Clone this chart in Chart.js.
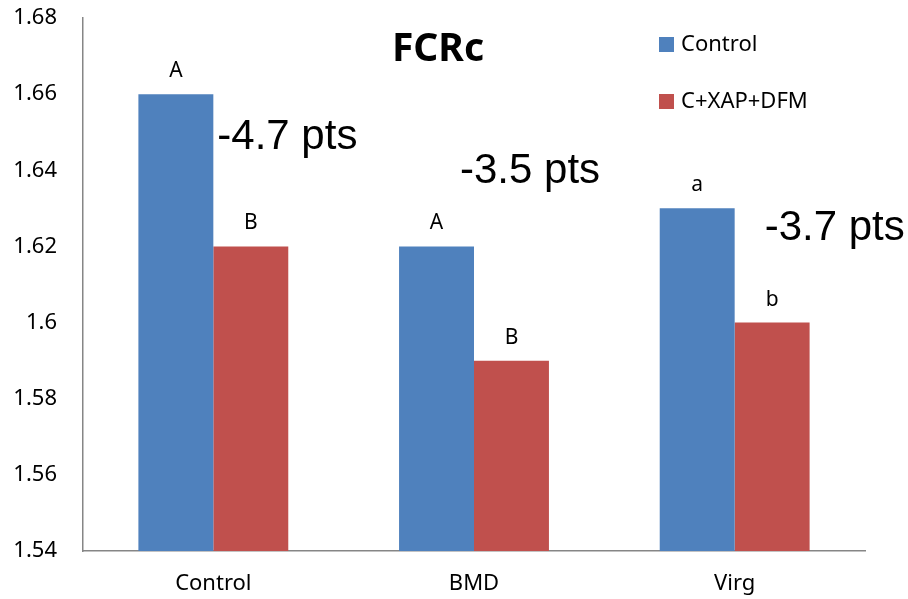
<!DOCTYPE html>
<html>
<head>
<meta charset="utf-8">
<script src="https://cdn.jsdelivr.net/npm/chart.js@4"></script>
<style>
  html, body { margin: 0; padding: 0; background: #fff; }
  #wrap { width: 908px; height: 599px; }
</style>
</head>
<body>
<div id="wrap"><canvas id="chart" width="908" height="599"></canvas></div>
<script>
// ======================
// DATA
// ======================
const categories = ["Control", "BMD", "Virg"];
const seriesNames = ["Control", "C+XAP+DFM"];
const controlValues = [1.66, 1.62, 1.63];
const treatValues = [1.62, 1.59, 1.60];
const controlLetters = ["A", "A", "a"];
const treatLetters = ["B", "B", "b"];
const diffLabels = ["-4.7 pts", "-3.5 pts", "-3.7 pts"];
const chartTitle = "FCRc";

// where the "-x pts" notes sit: pixel shift from category centre, value on y scale
const diffPlace = [
  { dx: 4, y: 1.6487 },
  { dx: -14, y: 1.6396 },
  { dx: 30, y: 1.6246 }
];

const BLUE = "#4f81bd";
const RED = "#c0504d";
const FONT = "'Noto Sans', sans-serif";

// ======================
// EXTRA DRAWING
// ======================
const overlay = {
  id: "overlay",
  afterDatasetsDraw(chart) {
    const ctx = chart.ctx;
    const letters = [controlLetters, treatLetters];
    ctx.save();

    // letters above bars
    ctx.fillStyle = "#000";
    ctx.font = "21px " + FONT;
    ctx.textAlign = "center";
    ctx.textBaseline = "middle";
    letters.forEach((set, i) => {
      chart.getDatasetMeta(i).data.forEach((bar, j) => {
        ctx.fillText(set[j], bar.x, bar.y - 23);
      });
    });

    // differences
    const xs = chart.scales.x;
    const ys = chart.scales.y;
    ctx.font = "42px 'Liberation Sans', Arial, sans-serif";
    ctx.textAlign = "left";
    diffLabels.forEach((txt, j) => {
      const p = diffPlace[j];
      ctx.fillText(txt, xs.getPixelForValue(j) + p.dx, ys.getPixelForValue(p.y));
    });

    // title
    ctx.font = "bold 39px " + FONT;
    ctx.textAlign = "center";
    ctx.fillText(chartTitle, 438, 50);

    // legend
    ctx.font = "22px " + FONT;
    ctx.textAlign = "left";
    chart.data.datasets.forEach((ds, i) => {
      const y = 44 + i * 57;
      ctx.fillStyle = ds.backgroundColor;
      ctx.fillRect(659, y - 7, 15, 15);
      ctx.fillStyle = "#000";
      ctx.fillText(ds.label, 681, y + 1);
    });

    ctx.restore();
  }
};

new Chart(document.getElementById("chart"), {
  type: "bar",
  data: {
    labels: categories,
    datasets: [
      {
        label: seriesNames[0],
        data: controlValues,
        backgroundColor: BLUE,
        categoryPercentage: 0.575,
        barPercentage: 1.0
      },
      {
        label: seriesNames[1],
        data: treatValues,
        backgroundColor: RED,
        categoryPercentage: 0.575,
        barPercentage: 1.0
      }
    ]
  },
  options: {
    responsive: false,
    animation: false,
    layout: {
      padding: { top: 0, right: 43, bottom: 0, left: 0 }
    },
    plugins: {
      legend: { display: false },
      tooltip: { enabled: false }
    },
    scales: {
      x: {
        grid: { display: false, drawTicks: false },
        border: { display: true, color: "#868686", width: 1.5 },
        ticks: {
          color: "#000",
          font: { family: FONT, size: 22 },
          padding: 20
        },
        afterFit: s => { s.height = 48; }
      },
      y: {
        min: 1.54,
        max: 1.68,
        grid: { display: false, drawTicks: false },
        border: { display: true, color: "#868686", width: 1.5 },
        ticks: {
          stepSize: 0.02,
          color: "#000",
          font: { family: FONT, size: 22 },
          padding: 26,
          callback: v => String(Number(v.toFixed(2)))
        },
        afterFit: s => {
          s.width = 83;
          s.paddingTop = 18;
        }
      }
    }
  },
  plugins: [overlay]
});
</script>
</body>
</html>
